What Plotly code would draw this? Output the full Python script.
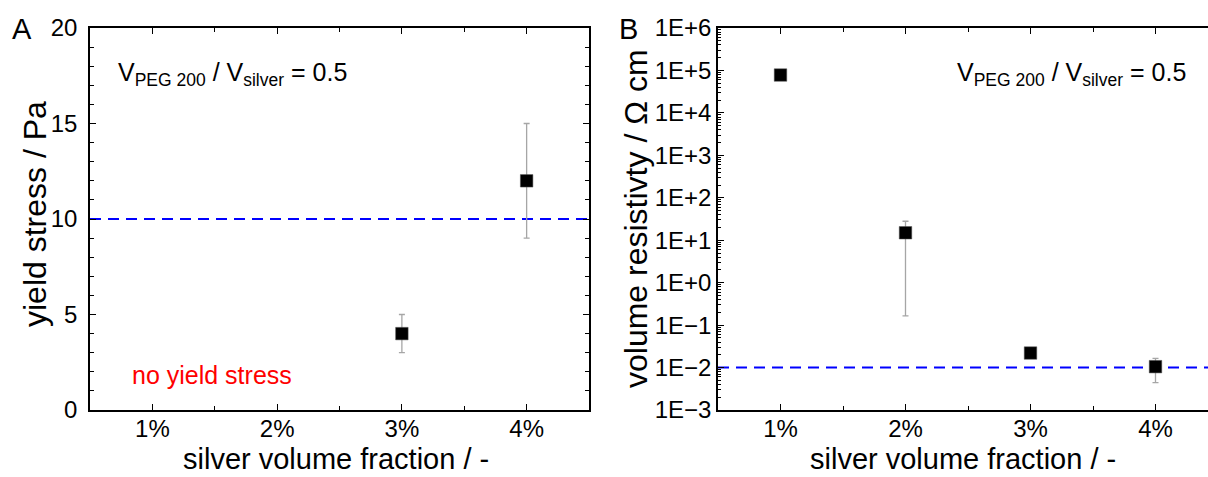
import plotly.graph_objects as go

# ---------------- data ----------------
categories = ["1%", "2%", "3%", "4%"]
cat_pos = [1, 2, 3, 4]

# panel A: yield stress (Pa); 1% and 2% show no yield stress
yield_stress = [None, None, 4, 12]
yield_upper = [None, None, 5, 15]
yield_lower = [None, None, 3, 9]
yield_threshold = 10

# panel B: volume resistivity (Ohm cm)
resistivity = [7.8e4, 15, 0.022, 0.0105]
res_upper = [7.8e4, 28, 0.022, 0.0165]
res_lower = [7.8e4, 0.165, 0.022, 0.0044]
resistivity_threshold = 0.01

log_tick_exps = [-3, -2, -1, 0, 1, 2, 3, 4, 5, 6]
log_tick_text = ["1E\u22123", "1E\u22122", "1E\u22121", "1E+0", "1E+1", "1E+2",
                 "1E+3", "1E+4", "1E+5", "1E+6"]

x_title = "silver volume fraction / -"
y_title_a = "yield stress / Pa"
y_title_b = "volume resistivty / \u03a9 cm"

# ---------------- styling ----------------
FONT = "Liberation Sans, Arial, sans-serif"
W, H = 1208, 477
ERR_COLOR = "#a6a6a6"

def px_x(p):
    return p / W

def px_y(p):
    return 1 - p / H

y_dom = [px_y(410), px_y(28)]

fig = go.Figure()

# panel A points
ax_x = [c for c, v in zip(cat_pos, yield_stress) if v is not None]
ax_y = [v for v in yield_stress if v is not None]
ax_up = [u - v for u, v in zip(yield_upper, yield_stress) if v is not None]
ax_dn = [v - l for l, v in zip(yield_lower, yield_stress) if v is not None]
fig.add_trace(go.Scatter(
    x=ax_x, y=ax_y, mode="markers", xaxis="x", yaxis="y",
    marker=dict(symbol="square", size=12.5, color="black",
                line=dict(color="#555555", width=0.5)),
    error_y=dict(type="data", symmetric=False, array=ax_up, arrayminus=ax_dn,
                 color=ERR_COLOR, thickness=1.3, width=3),
    showlegend=False, hoverinfo="skip"))

# panel B points
bx_up = [u - v for u, v in zip(res_upper, resistivity)]
bx_dn = [v - l for l, v in zip(res_lower, resistivity)]
fig.add_trace(go.Scatter(
    x=cat_pos, y=resistivity, mode="markers", xaxis="x2", yaxis="y2",
    marker=dict(symbol="square", size=12.5, color="black",
                line=dict(color="#555555", width=0.5)),
    error_y=dict(type="data", symmetric=False, array=bx_up, arrayminus=bx_dn,
                 color=ERR_COLOR, thickness=1.3, width=3),
    showlegend=False, hoverinfo="skip"))

# threshold lines
dash = "11px,7px"
fig.add_shape(type="line", xref="x domain", yref="y", x0=0, x1=1,
              y0=yield_threshold, y1=yield_threshold,
              line=dict(color="#0000ff", width=2, dash=dash), layer="below")
fig.add_shape(type="line", xref="x2 domain", yref="y2", x0=0, x1=1,
              y0=resistivity_threshold, y1=resistivity_threshold,
              line=dict(color="#0000ff", width=2, dash=dash), layer="below")

tickfont = dict(family=FONT, size=24, color="black")

common_x = dict(
    tickmode="array", tickvals=cat_pos, ticktext=categories,
    ticks="inside", ticklen=6, tickwidth=1.3, tickcolor="black",
    showline=True, linecolor="black", linewidth=1.5, mirror="ticks",
    showgrid=False, zeroline=False, tickfont=tickfont,
    minor=dict(tickvals=[1.5, 2.5, 3.5], ticks="inside", ticklen=4,
               tickwidth=1.2, tickcolor="black", showgrid=False),
    automargin=False, ticklabelstandoff=-4,
)

minor_log = [m * 10.0 ** e for e in range(-3, 6) for m in range(2, 10)]

fig.update_layout(
    width=W, height=H,
    margin=dict(l=0, r=0, t=0, b=0),
    paper_bgcolor="white", plot_bgcolor="white",
    font=dict(family=FONT, color="black"),
    xaxis=dict(common_x, domain=[px_x(90), px_x(589)], range=[0.5, 4.5],
               anchor="y"),
    xaxis2=dict(common_x, domain=[px_x(718), 1.0], range=[0.5, 4.42],
                anchor="y2"),
    yaxis=dict(
        domain=y_dom, range=[0, 20], anchor="x",
        tickmode="linear", tick0=0, dtick=5,
        ticks="inside", ticklen=6, tickwidth=1.3, tickcolor="black",
        showline=True, linecolor="black", linewidth=1.5, mirror="ticks",
        showgrid=False, zeroline=False, tickfont=tickfont,
        minor=dict(dtick=1, tick0=0, ticks="inside", ticklen=4, tickwidth=1.2,
                   tickcolor="black", showgrid=False),
        automargin=False, ticklabelstandoff=6,
    ),
    yaxis2=dict(
        domain=y_dom, type="log", range=[-3, 6], anchor="x2",
        tickmode="array", tickvals=[10.0 ** e for e in log_tick_exps],
        ticktext=log_tick_text,
        ticks="inside", ticklen=6, tickwidth=1.3, tickcolor="black",
        showline=True, linecolor="black", linewidth=1.5, mirror=False,
        showgrid=False, zeroline=False, tickfont=tickfont,
        minor=dict(tickvals=minor_log, ticks="inside", ticklen=3, tickwidth=1,
                   tickcolor="black", showgrid=False),
        automargin=False, ticklabelstandoff=0,
    ),
)

# axis titles as annotations for exact placement
title_font = dict(family=FONT, size=29, color="black")
for cx in (336, 963):
    fig.add_annotation(text=x_title, xref="paper", yref="paper",
                       x=px_x(cx), y=px_y(459), xanchor="center",
                       yanchor="middle", showarrow=False, font=title_font)
fig.add_annotation(text=y_title_a, xref="paper", yref="paper",
                   x=px_x(35), y=px_y(214), textangle=-90,
                   xanchor="center", yanchor="middle", showarrow=False,
                   font=dict(title_font, size=32))
fig.add_annotation(text=y_title_b, xref="paper", yref="paper",
                   x=px_x(636), y=px_y(219), textangle=-90,
                   xanchor="center", yanchor="middle", showarrow=False,
                   font=dict(title_font, size=32))

ann_font = dict(family=FONT, size=25, color="black")
fig.add_annotation(text="A", xref="paper", yref="paper", x=px_x(22), y=px_y(29),
                   xanchor="center", yanchor="middle", showarrow=False,
                   font=dict(family=FONT, size=29, color="black"))
fig.add_annotation(text="B", xref="paper", yref="paper", x=px_x(628), y=px_y(29),
                   xanchor="center", yanchor="middle", showarrow=False,
                   font=dict(family=FONT, size=29, color="black"))
ratio_text = "V<sub>PEG 200</sub> / V<sub>silver</sub> = 0.5"
fig.add_annotation(text=ratio_text, xref="paper", yref="paper",
                   x=px_x(116), y=px_y(74), xanchor="left", yanchor="middle",
                   showarrow=False, font=ann_font)
fig.add_annotation(text=ratio_text, xref="paper", yref="paper",
                   x=px_x(1188), y=px_y(74), xanchor="right", yanchor="middle",
                   showarrow=False, font=ann_font)
fig.add_annotation(text="no yield stress", xref="paper", yref="paper",
                   x=px_x(130), y=px_y(375), xanchor="left", yanchor="middle",
                   showarrow=False, font=dict(family=FONT, size=25, color="red"))

fig.write_html(
    "out.html",
    config={"displayModeBar": False},
    post_script="document.body.style.margin='0';"
                "document.body.style.overflow='hidden';",
)
